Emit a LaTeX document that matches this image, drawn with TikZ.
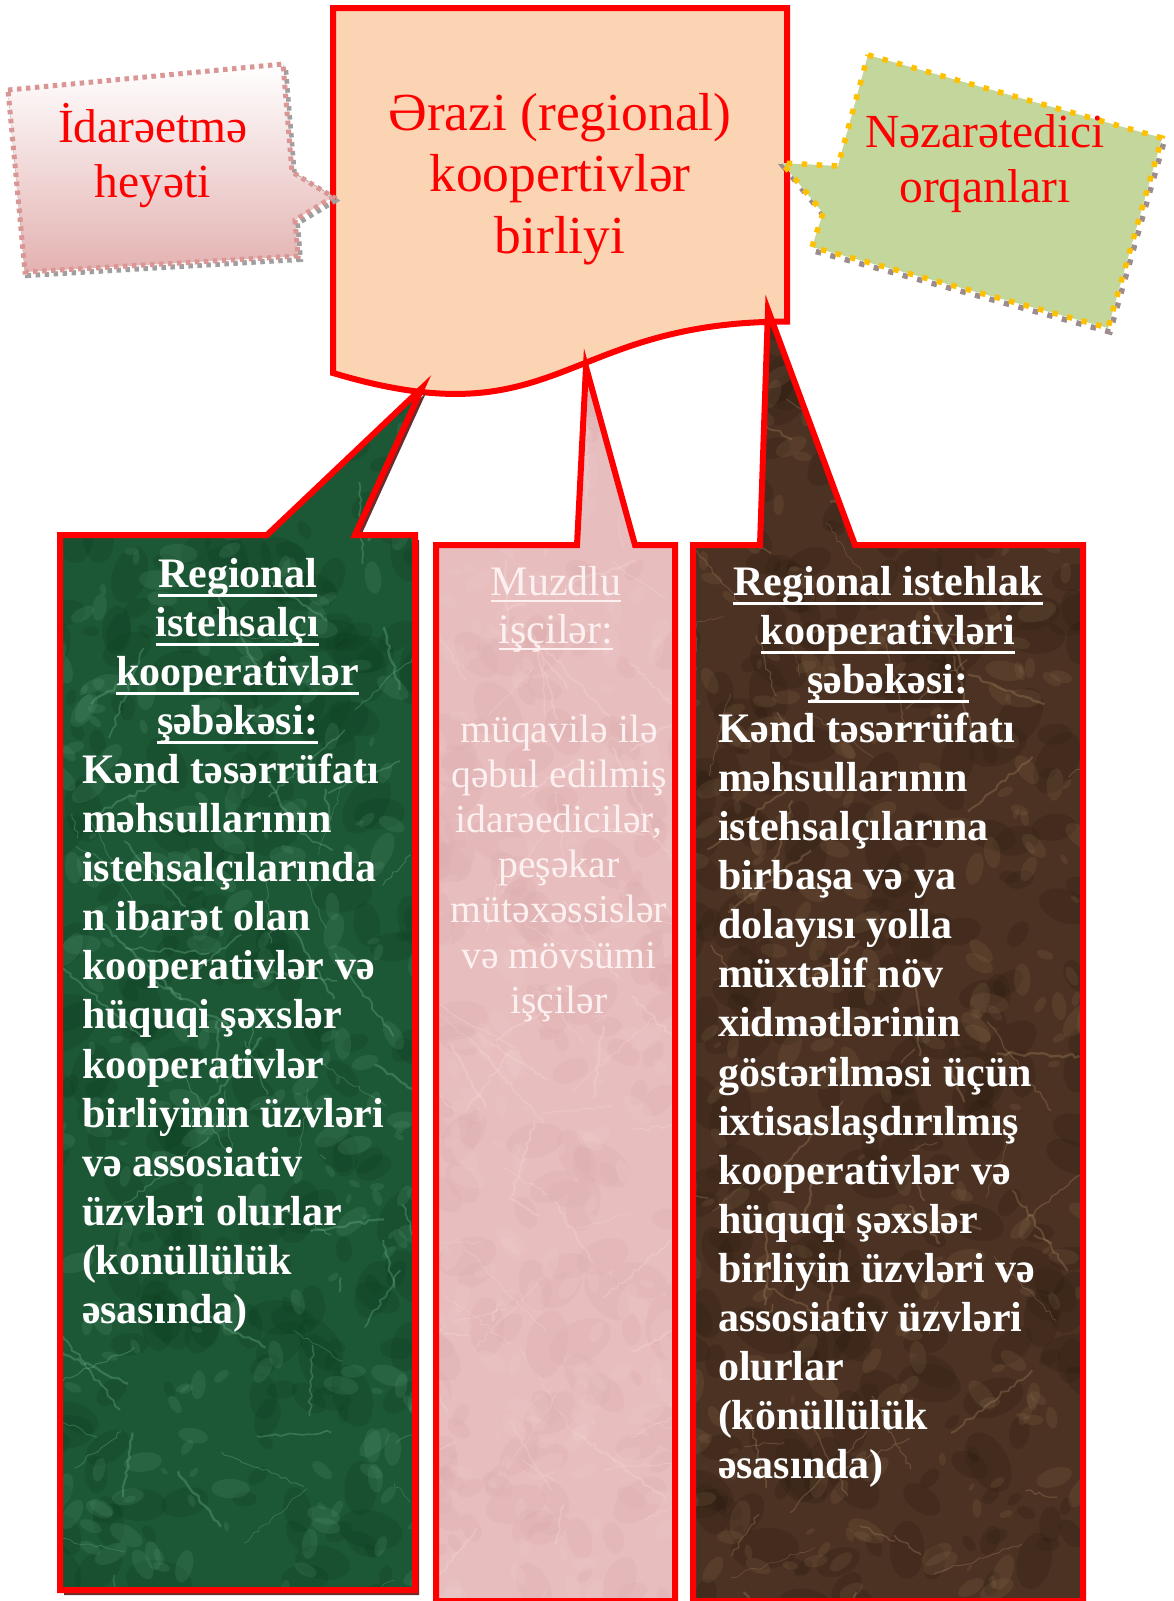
\documentclass[tikz,border=0pt]{standalone}
\usepackage{fontspec}
\setmainfont{Liberation Serif}
\usetikzlibrary{decorations.pathmorphing}
\definecolor{peach}{HTML}{FBD4B4}
\definecolor{calloutpink}{HTML}{E3B2B1}
\definecolor{pinkdash}{HTML}{D99694}
\definecolor{olivegreen}{HTML}{C3D69B}
\definecolor{goldy}{HTML}{FFC000}
\definecolor{greyshadow}{HTML}{9C8C8E}
\definecolor{mgbase}{HTML}{1D5836}
\definecolor{mgdark}{HTML}{0B3A1E}
\definecolor{mglight}{HTML}{6CB08A}
\definecolor{mpbase}{HTML}{E8BDBE}
\definecolor{mpdark}{HTML}{D9A9AB}
\definecolor{mplight}{HTML}{F6D6D7}
\definecolor{mbbase}{HTML}{4B3222}
\definecolor{mbdark}{HTML}{2A1A10}
\definecolor{mblight}{HTML}{A3825F}
\definecolor{shadowred}{HTML}{6B2D2D}
\definecolor{pinktext}{HTML}{FCF0F0}
\newcommand\ulb[1]{\leavevmode\setbox0\hbox{#1}\rlap{\rule[-10pt]{\wd0}{3.5pt}}\box0}
\newcommand\ulr[1]{\leavevmode\setbox0\hbox{#1}\rlap{\rule[-6.5pt]{\wd0}{2pt}}\box0}
\newcommand\marbletex[9]{%
  \fill[#5] (#1,#2) rectangle ++(#3,#4);
  \pgfmathsetseed{#8}%
  \foreach \k in {1,...,#9}{%
    \pgfmathsetmacro\xx{#1+rnd*#3}%
    \pgfmathsetmacro\yy{#2+rnd*#4}%
    \pgfmathsetmacro\rr{8+rnd*26}%
    \pgfmathsetmacro\aa{rnd*180}%
    \fill[#6, opacity=0.22, rotate around={\aa:(\xx,\yy)}] (\xx,\yy) ellipse ({\rr pt} and {0.6*\rr pt});
  }%
  \foreach \k in {1,...,#9}{%
    \pgfmathsetmacro\xx{#1+rnd*#3}%
    \pgfmathsetmacro\yy{#2+rnd*#4}%
    \pgfmathsetmacro\rr{4+rnd*16}%
    \pgfmathsetmacro\aa{rnd*180}%
    \fill[#7, opacity=0.14, rotate around={\aa:(\xx,\yy)}] (\xx,\yy) ellipse ({\rr pt} and {0.5*\rr pt});
  }%
  \foreach \k in {1,...,80}{%
    \pgfmathsetmacro\xx{#1+rnd*#3}%
    \pgfmathsetmacro\yy{#2+rnd*#4}%
    \pgfmathsetmacro\dx{rnd*180-90}%
    \pgfmathsetmacro\dy{rnd*180-90}%
    \pgfmathsetmacro\lw{0.6+rnd*1.8}%
    \draw[#7, opacity=0.35, line width=\lw pt, line join=round, decorate, decoration={random steps, segment length=5pt, amplitude=2pt}] (\xx,\yy) -- ++(\dx,\dy);
  }%
}
\tikzset{
  redbox/.style={draw=red, line width=6pt, line join=miter, miter limit=25},
  txt/.style={inner sep=0pt, outer sep=0pt},
  headfont/.style={font=\fontsize{53.5}{61.5}\selectfont, text=red},
  callfont/.style={font=\fontsize{47.5}{55.5}\selectfont, text=red},
  boldfont/.style={font=\fontsize{42}{49.1}\selectfont\bfseries, text=white},
  pinkhead/.style={font=\fontsize{42}{48}\selectfont, text=pinktext},
  pinkbody/.style={font=\fontsize{39.7}{45.2}\selectfont, text=pinktext},
}
\begin{document}
\begin{tikzpicture}[x=1pt,y=-1pt]
\useasboundingbox (0,0) rectangle (1174,1601);

% main box
\path[redbox, fill=peach] (333,8) -- (787,8) -- (787,321.6) .. controls (560,321.6) and (560,441) .. (333,373) -- cycle;
\node[txt, headfont, anchor=base] (maintxt) at (560,130) {\parbox[t]{440pt}{\centering Ərazi (regional)\\koopertivlər\\birliyi}};

% green box
\fill[shadowred, shift={(4,5)}] (60,535) -- (267,535) -- (422,388) -- (355,535) -- (415,535) -- (415,1590) -- (60,1590) -- cycle;
\begin{scope}
\clip (60,535) -- (267,535) -- (422,388) -- (355,535) -- (415,535) -- (415,1590) -- (60,1590) -- cycle;
\marbletex{55}{380}{370}{1220}{mgbase}{mgdark}{mglight}{11}{260}
\end{scope}
\path[redbox] (60,535) -- (267,535) -- (422,388) -- (355,535) -- (415,535) -- (415,1590) -- (60,1590) -- cycle;

% pink box
\begin{scope}
\clip (436,545) -- (577,545) -- (586,367) -- (635,545) -- (675,545) -- (675,1601) -- (436,1601) -- cycle;
\marbletex{430}{360}{250}{1245}{mpbase}{mpdark}{mplight}{23}{180}
\end{scope}
\path[redbox] (436,545) -- (577,545) -- (586,367) -- (635,545) -- (675,545) -- (675,1601) -- (436,1601) -- cycle;

% brown box
\begin{scope}
\clip (693,545) -- (760,545) -- (768,310) -- (855,545) -- (1083,545) -- (1083,1601) -- (693,1601) -- cycle;
\marbletex{688}{300}{400}{1305}{mbbase}{mbdark}{mblight}{37}{300}
\end{scope}
\path[redbox] (693,545) -- (760,545) -- (768,310) -- (855,545) -- (1083,545) -- (1083,1601) -- (693,1601) -- cycle;

% left callout
\draw[draw=gray!75, line width=5pt, dash pattern=on 4.5pt off 4.5pt, shift={(2.5,3.5)}] (8,90) -- (283,64) -- (292,172) -- (333,197) -- (295,220) -- (298,256) -- (25,272) -- cycle;
\draw[top color=white, bottom color=calloutpink, draw=pinkdash, line width=5pt, dash pattern=on 4.5pt off 4.5pt] (8,90) -- (283,64) -- (292,172) -- (333,197) -- (295,220) -- (298,256) -- (25,272) -- cycle;
\node[txt, callfont, anchor=base] (idtxt) at (153,142) {\parbox[t]{280pt}{\centering İdarəetmə\\heyəti}};

% right callout
\draw[draw=greyshadow, line width=5.5pt, dash pattern=on 5.5pt off 9.5pt, dash phase=7.5pt, shift={(2,4)}] (868,55) -- (1162,138) -- (1108,328) -- (812,247) -- (823,213) -- (782,163) -- (838,166) -- cycle;
\draw[fill=olivegreen, draw=goldy, line width=5.5pt, dash pattern=on 5.5pt off 9.5pt] (868,55) -- (1162,138) -- (1108,328) -- (812,247) -- (823,213) -- (782,163) -- (838,166) -- cycle;
\node[txt, callfont, anchor=base] (nztxt) at (985,147) {\parbox[t]{320pt}{\centering Nəzarətedici\\orqanları}};

% green texts
\node[txt, boldfont, anchor=base] (ghead) at (237.5,587) {\parbox[t]{350pt}{\centering \ulb{Regional}\\\ulb{istehsalçı}\\\ulb{kooperativlər}\\\ulb{şəbəkəsi:}}};
\node[txt, boldfont, anchor=base west] (gbody) at (82,783.4) {\parbox[t]{340pt}{\raggedright Kənd təsərrüfatı\\məhsullarının\\istehsalçılarında\\n ibarət olan\\kooperativlər və\\hüquqi şəxslər\\kooperativlər\\birliyinin üzvləri\\və assosiativ\\üzvləri olurlar\\(konüllülük\\əsasında)}};

% pink texts
\node[txt, pinkhead, anchor=base] (phead) at (556,595) {\parbox[t]{240pt}{\centering \ulr{Muzdlu}\\\ulr{işçilər:}}};
\node[txt, pinkbody, anchor=base] (pbody) at (559,742) {\parbox[t]{260pt}{\centering müqavilə ilə\\qəbul edilmiş\\idarəedicilər,\\peşəkar\\mütəxəssislər\\və mövsümi\\işçilər}};

% brown texts
\node[txt, boldfont, anchor=base] (bhead) at (888,595) {\parbox[t]{380pt}{\centering \ulb{Regional istehlak}\\\ulb{kooperativləri}\\\ulb{şəbəkəsi:}}};
\node[txt, boldfont, anchor=base west] (bbody) at (718,742.3) {\parbox[t]{360pt}{\raggedright Kənd təsərrüfatı\\məhsullarının\\istehsalçılarına\\birbaşa və ya\\dolayısı yolla\\müxtəlif növ\\xidmətlərinin\\göstərilməsi üçün\\ixtisaslaşdırılmış\\kooperativlər və\\hüquqi şəxslər\\birliyin üzvləri və\\assosiativ üzvləri\\olurlar\\(könüllülük\\əsasında)}};
\end{tikzpicture}
\end{document}
